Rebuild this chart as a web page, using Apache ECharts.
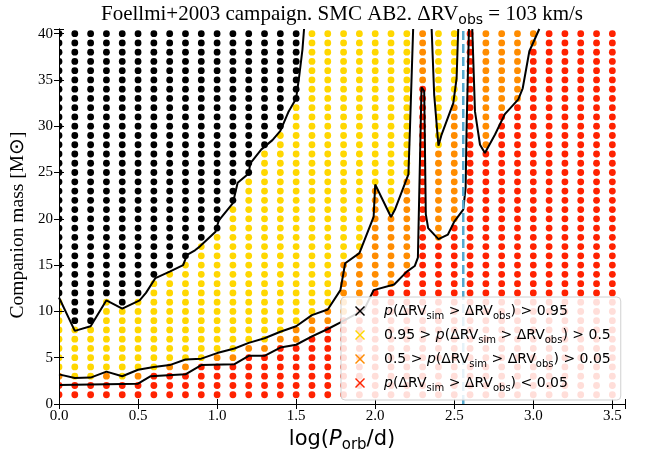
<!DOCTYPE html>
<html>
<head>
<meta charset="utf-8">
<script src="https://cdn.jsdelivr.net/npm/echarts@6/dist/echarts.min.js"></script>
<style>
  html, body {margin: 0; padding: 0; background: #fff;}
  #chart {width: 654px; height: 450px;}
</style>
</head>
<body>
<div id="chart"></div>
<script>
// grid of the simulation
const logP = [0.0, 0.1, 0.2, 0.3, 0.4, 0.5, 0.6, 0.7, 0.8, 0.9, 1.0, 1.1, 1.2, 1.3, 1.4, 1.5, 1.6, 1.7,
              1.8, 1.9, 2.0, 2.1, 2.2, 2.3, 2.4, 2.5, 2.6, 2.7, 2.8, 2.9, 3.0, 3.1, 3.2, 3.3, 3.4, 3.5];
const masses = [1, 2, 3, 4, 5, 6, 7, 8, 9, 10, 11, 12, 13, 14, 15, 16, 17, 18, 19, 20,
                21, 22, 23, 24, 25, 26, 27, 28, 29, 30, 31, 32, 33, 34, 35, 36, 37, 38, 39, 40];

// per logP column: highest mass in each class (red < orange < yellow < black)
const redTop    = [2, 2, 2, 2, 2, 2, 3, 3, 3, 4, 4, 4, 5, 5, 6, 6, 7, 8, 9, 10, 12, 12, 14, 34, 17, 19, 40, 27, 31, 32, 38, 40, 40, 40, 40, 40];
const orangeTop = [3, 2, 2, 3, 2, 3, 3, 4, 4, 4, 5, 5, 6, 6, 7, 8, 9, 10, 15, 16, 23, 20, 24, 40, 27, 32, 40, 40, 40, 40, 40, 40, 40, 40, 40, 40];
const yellowTop = [11, 8, 8, 11, 10, 11, 13, 14, 15, 17, 18, 21, 24, 27, 29, 32, 40, 40, 40, 40, 40, 40, 40, 40, 40, 40, 40, 40, 40, 40, 40, 40, 40, 40, 40, 40];

// contour lines (logP, mass)
const contour95 = [[0, 11.5], [0.1, 7.9], [0.2, 8.4], [0.3, 11.2], [0.4, 10.3], [0.51, 11.2], [0.55, 12.0], [0.61, 13.6],
  [0.7, 14.3], [0.785, 15.0], [0.81, 16.1], [0.86, 16.6], [0.89, 17.0], [0.99, 18.6], [1.01, 19.8], [1.1, 21.7],
  [1.13, 23.9], [1.2, 24.9], [1.21, 26.0], [1.28, 27.5], [1.35, 28.5], [1.4, 29.5], [1.45, 31.5], [1.5, 33],
  [1.52, 35.5], [1.54, 38.3], [1.55, 40.5]];
const contour50a = [[0, 3.2], [0.1, 2.8], [0.2, 2.85], [0.3, 3.5], [0.4, 3.0], [0.5, 3.7], [0.6, 4.0], [0.7, 4.2],
  [0.8, 4.8], [0.9, 4.9], [1.0, 5.5], [1.11, 6.0], [1.2, 6.6], [1.3, 7.1], [1.4, 7.8], [1.5, 8.4], [1.6, 9.6],
  [1.7, 10.2], [1.78, 12.3], [1.81, 15.2], [1.9, 16.3], [1.99, 20.2], [2.0, 23.7], [2.1, 20.2], [2.125, 21.0],
  [2.21, 24.8], [2.22, 29.8], [2.24, 40.5]];
const contour50b = [[2.357, 40.5], [2.373, 33.4], [2.4, 27.9], [2.42, 29.1], [2.494, 32.5], [2.515, 35.2], [2.525, 40.5]];
const contour05a = [[0, 2.05], [0.5, 2.2], [0.58, 3.0], [0.8, 3.2], [0.9, 4.2], [1.11, 4.3], [1.2, 5.2], [1.3, 5.2],
  [1.4, 6.1], [1.5, 6.4], [1.6, 7.3], [1.7, 8.1], [1.79, 8.9], [1.93, 10.2], [1.99, 12.3], [2.12, 12.9], [2.2, 14.3],
  [2.25, 14.9], [2.27, 15.8], [2.293, 34.2], [2.31, 33.8], [2.32, 20.5], [2.335, 19.0], [2.4, 17.8], [2.46, 18.3],
  [2.5, 19.7], [2.557, 21.0], [2.572, 23.4], [2.578, 29.8], [2.593, 40.5]];
const contour05b = [[2.614, 40.5], [2.631, 31.6], [2.663, 28.0], [2.694, 27.1], [2.758, 29.1], [2.82, 31.3],
  [2.905, 32.9], [2.933, 34.1], [2.975, 38.1], [3.038, 40.5]];

const obsLogP = 2.557;

const classNames = ['p(ΔRV_sim > ΔRV_obs) > 0.95', '0.95 > p(ΔRV_sim > ΔRV_obs) > 0.5',
                    '0.5 > p(ΔRV_sim > ΔRV_obs) > 0.05', 'p(ΔRV_sim > ΔRV_obs) < 0.05'];
const classColors = ['#000000', '#FFD700', '#FF8C00', '#FF2200'];

const points = [[], [], [], []];
logP.forEach((x, i) => {
    masses.forEach(m => {
        let c = 0;
        if (m <= redTop[i]) c = 3;
        else if (m <= orangeTop[i]) c = 2;
        else if (m <= yellowTop[i]) c = 1;
        points[c].push([x, m]);
    });
});

function richLabel(s) {
    return '{sp|}' + s.split(/(p\(|_sim|_obs)/).filter(Boolean).map(t => {
        if (t === 'p(') return '{i|p}{n|(}';
        if (t === '_sim') return '{s|sim}';
        if (t === '_obs') return '{s|obs}';
        return '{n|' + t + '}';
    }).join('');
}

const xIcon = 'path://M1,0L5,4L9,0L10,1L6,5L10,9L9,10L5,6L1,10L0,9L4,5L0,1Z';
const serif = 'Liberation Serif';
const sans = 'DejaVu Sans';

// dots are drawn by a custom series so that the frame clips them (half dots on the left edge)
const dotSeries = (name, data, color) => ({
    name: name, type: 'custom', data: data, clip: true, silent: true, z: 2,
    itemStyle: {color: color},
    encode: {x: 0, y: 1},
    renderItem: (params, api) => {
        const p = api.coord([api.value(0), api.value(1)]);
        return {type: 'circle', shape: {cx: p[0], cy: p[1], r: 3.4}, style: {fill: color}};
    }
});

const contourLine = (d) => ({
    type: 'line', data: d, showSymbol: false, silent: true, z: 5,
    lineStyle: {color: '#000', width: 2}
});

const axisCommon = {
    type: 'value', z: 10,
    axisLine: {show: true, lineStyle: {color: '#000', width: 1}},
    axisTick: {show: true, inside: true, length: 5, lineStyle: {color: '#000', width: 1}},
    splitLine: {show: false}
};

const option = {
    animation: false,
    grid: {left: 59, right: 29, top: 29, bottom: 46, containLabel: false, outerBoundsMode: 'none'},
    xAxis: [{
        ...axisCommon, min: 0, max: 3.58, interval: 0.5, position: 'bottom',
        axisLabel: {
            fontFamily: serif, fontSize: 15, color: '#000', margin: 5,
            formatter: v => (Math.abs(v * 2 - Math.round(v * 2)) < 1e-6 ? v.toFixed(1) : '')
        },
        name: '{n|log(}{i|P}{s|orb}{n|/d)}', nameLocation: 'middle', nameGap: 20,
        nameTextStyle: {
            rich: {
                n: {fontFamily: sans, fontSize: 21, color: '#000', lineHeight: 26},
                i: {fontFamily: sans, fontSize: 21, fontStyle: 'italic', color: '#000', lineHeight: 26},
                s: {fontFamily: sans, fontSize: 15, color: '#000', lineHeight: 15, verticalAlign: 'bottom'}
            }
        }
    }, {
        ...axisCommon, min: 0, max: 3.58, interval: 0.5, position: 'top',
        axisLabel: {show: false}
    }],
    yAxis: [{
        ...axisCommon, min: 0, max: 40.5, interval: 5, position: 'left',
        axisLabel: {
            fontFamily: serif, fontSize: 15, color: '#000', margin: 6,
            formatter: v => (v % 5 === 0 ? String(v) : '')
        }
    }, {
        ...axisCommon, min: 0, max: 40.5, interval: 5, position: 'right',
        axisLabel: {show: false}
    }],
    legend: {
        orient: 'vertical', left: 341, top: 297, z: 20,
        data: classNames, icon: xIcon,
        itemWidth: 10, itemHeight: 10, itemGap: 7,
        padding: [7, 10, 7, 14],
        backgroundColor: 'rgba(255,255,255,0.85)',
        borderColor: '#d0d0d0', borderWidth: 1, borderRadius: 4,
        formatter: name => richLabel(name),
        textStyle: {
            rich: {
                sp: {width: 14},
                n: {fontFamily: sans, fontSize: 14, color: '#000', lineHeight: 20},
                i: {fontFamily: sans, fontSize: 14, fontStyle: 'italic', color: '#000', lineHeight: 20},
                s: {fontFamily: sans, fontSize: 10, color: '#000', lineHeight: 11, verticalAlign: 'bottom'}
            }
        }
    },
    graphic: [{
        type: 'text', x: 342, y: 2, z: 30,
        style: {
            text: '{t|Foellmi+2003 campaign. SMC AB2. ΔRV}{s|obs}{t| = 103 km/s}',
            textAlign: 'center',
            rich: {
                t: {fontFamily: serif, fontSize: 21, fill: '#000', lineHeight: 25},
                s: {fontFamily: sans, fontSize: 14, fill: '#000', lineHeight: 14, verticalAlign: 'bottom'}
            }
        }
    }, {
        type: 'text', x: 18, y: 225, rotation: Math.PI / 2, z: 30,
        style: {
            text: 'Companion mass [M⊙]',
            fontFamily: serif, fontSize: 19.5, fill: '#000',
            textAlign: 'center', textVerticalAlign: 'middle'
        }
    }],
    series: [
        ...classNames.map((name, c) => dotSeries(name, points[c], classColors[c])),
        contourLine(contour95),
        contourLine(contour50a),
        contourLine(contour50b),
        contourLine(contour05a),
        contourLine(contour05b),
        {
            type: 'line', data: [[obsLogP, 0], [obsLogP, 40.5]], showSymbol: false, silent: true, z: 6,
            lineStyle: {color: '#56aad0', width: 2.5, type: [9, 4]}
        }
    ]
};

const myChart = echarts.init(document.getElementById('chart'));
myChart.setOption(option);
</script>
</body>
</html>
